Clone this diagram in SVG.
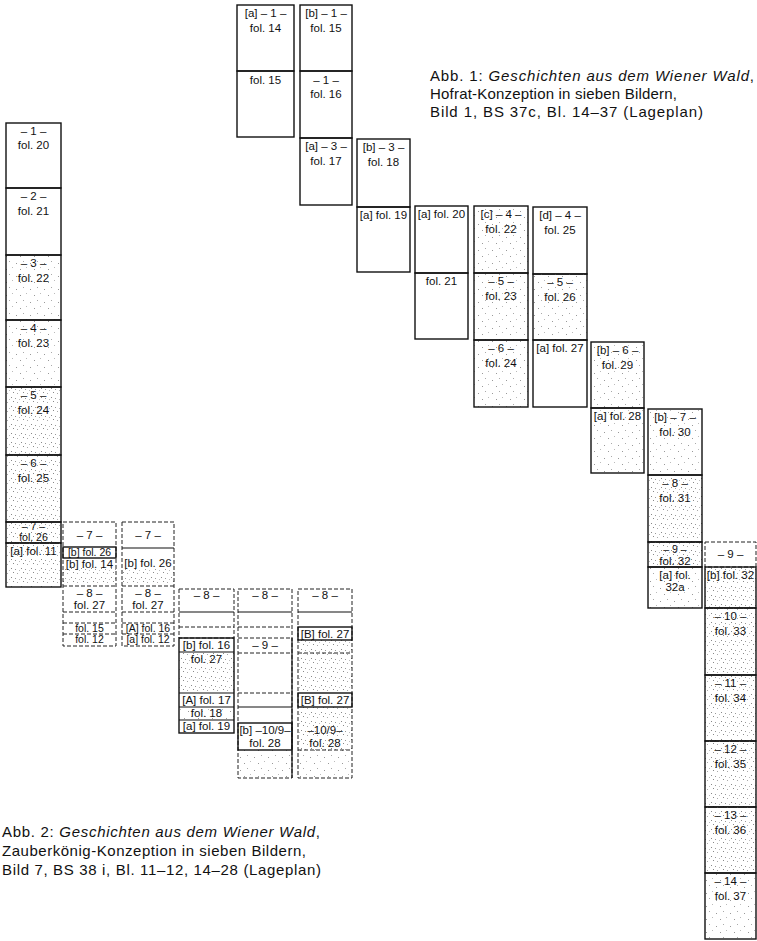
<svg xmlns="http://www.w3.org/2000/svg" width="757" height="941" viewBox="0 0 757 941">
<defs>
<pattern id="s1" width="14" height="13" patternUnits="userSpaceOnUse">
<rect x="2" y="3" width="1" height="1" fill="#999"/><rect x="9" y="1" width="1" height="1" fill="#aaa"/><rect x="6" y="9" width="1" height="1" fill="#999"/><rect x="12" y="7" width="1" height="1" fill="#bbb"/>
</pattern>
<pattern id="s2" width="10" height="9" patternUnits="userSpaceOnUse">
<rect x="1" y="1" width="1" height="1" fill="#888"/><rect x="5" y="2" width="1" height="1" fill="#999"/><rect x="3" y="5" width="1" height="1" fill="#888"/><rect x="7" y="6" width="1" height="1" fill="#aaa"/><rect x="9" y="3" width="1" height="1" fill="#bbb"/>
</pattern>
<style>
.b{fill:none;stroke:#111;stroke-width:1.4}
.d{fill:none;stroke:#222;stroke-width:1;stroke-dasharray:4 2}
.l{stroke:#111;stroke-width:1.2}
.dl{stroke:#222;stroke-width:1;stroke-dasharray:4 2}
.t{font-family:"Liberation Sans",Arial,sans-serif;font-size:11.5px;fill:#111;text-anchor:middle}
.s{font-size:10.5px}
.c{font-family:"Liberation Sans",Arial,sans-serif;font-size:15px;fill:#111}
.i{font-style:italic}
.f1{fill:url(#s1)}
.f2{fill:url(#s2)}
</style>
</defs>

<!-- Abb. 1 -->
<g id="a1-fol14"><rect class="b" x="237" y="5" width="57" height="66"/><text class="t" x="265.5" y="17">[a] – 1 –</text><text class="t" x="265.5" y="32">fol. 14</text></g>
<g id="a1-fol15a"><rect class="b" x="237" y="71" width="57" height="66"/><text class="t" x="265.5" y="84">fol. 15</text></g>
<g id="a1-fol15b"><rect class="b" x="300" y="5" width="52" height="66"/><text class="t" x="326" y="17">[b] – 1 –</text><text class="t" x="326" y="32">fol. 15</text></g>
<g id="a1-fol16"><rect class="b" x="300" y="71" width="52" height="67"/><text class="t" x="326" y="84">– 1 –</text><text class="t" x="326" y="98">fol. 16</text></g>
<g id="a1-fol17"><rect class="b" x="300" y="138" width="52" height="67"/><text class="t" x="326" y="150">[a] – 3 –</text><text class="t" x="326" y="165">fol. 17</text></g>
<g id="a1-fol18"><rect class="b" x="357" y="139" width="53" height="68"/><text class="t" x="383.5" y="151">[b] – 3 –</text><text class="t" x="383.5" y="166">fol. 18</text></g>
<g id="a1-fol19"><rect class="b" x="357" y="207" width="53" height="65"/><text class="t" x="383.5" y="219">[a] fol. 19</text></g>
<g id="a1-fol20"><rect class="b" x="415" y="206" width="53" height="67"/><text class="t" x="441.5" y="218">[a] fol. 20</text></g>
<g id="a1-fol21"><rect class="b" x="415" y="273" width="53" height="66"/><text class="t" x="441.5" y="285">fol. 21</text></g>
<g id="a1-fol22"><rect class="f1" x="474" y="206" width="54" height="67"/><rect class="b" x="474" y="206" width="54" height="67"/><text class="t" x="501" y="218">[c] – 4 –</text><text class="t" x="501" y="233">fol. 22</text></g>
<g id="a1-fol23"><rect class="f1" x="474" y="273" width="54" height="67"/><rect class="b" x="474" y="273" width="54" height="67"/><text class="t" x="501" y="285">– 5 –</text><text class="t" x="501" y="300">fol. 23</text></g>
<g id="a1-fol24"><rect class="f1" x="474" y="340" width="54" height="67"/><rect class="b" x="474" y="340" width="54" height="67"/><text class="t" x="501" y="352">– 6 –</text><text class="t" x="501" y="367">fol. 24</text></g>
<g id="a1-fol25"><rect class="b" x="533" y="207" width="54" height="67"/><text class="t" x="560" y="219">[d] – 4 –</text><text class="t" x="560" y="234">fol. 25</text></g>
<g id="a1-fol26"><rect class="f1" x="533" y="274" width="54" height="66"/><rect class="b" x="533" y="274" width="54" height="66"/><text class="t" x="560" y="286">– 5 –</text><text class="t" x="560" y="301">fol. 26</text></g>
<g id="a1-fol27"><rect class="b" x="533" y="340" width="54" height="67"/><text class="t" x="560" y="352">[a] fol. 27</text></g>
<g id="a1-fol29"><rect class="f1" x="591" y="342" width="53" height="66"/><rect class="b" x="591" y="342" width="53" height="66"/><text class="t" x="617.5" y="354">[b] – 6 –</text><text class="t" x="617.5" y="369">fol. 29</text></g>
<g id="a1-fol28"><rect class="f1" x="591" y="408" width="53" height="65"/><rect class="b" x="591" y="408" width="53" height="65"/><text class="t" x="617.5" y="420">[a] fol. 28</text></g>
<g id="a1-fol30"><rect class="f1" x="648" y="409" width="54" height="66"/><rect class="b" x="648" y="409" width="54" height="66"/><text class="t" x="675" y="421">[b] – 7 –</text><text class="t" x="675" y="436">fol. 30</text></g>
<g id="a1-fol31"><rect class="f2" x="648" y="475" width="54" height="67"/><rect class="b" x="648" y="475" width="54" height="67"/><text class="t" x="675" y="487">– 8 –</text><text class="t" x="675" y="502">fol. 31</text></g>
<g id="a1-fol32"><rect class="f2" x="648" y="542" width="54" height="25"/><rect class="b" x="648" y="542" width="54" height="25"/><text class="t s" x="675" y="553">– 9 –</text><text class="t" x="675" y="565">fol. 32</text></g>
<g id="a1-fol32a"><rect class="f1" x="648" y="567" width="54" height="41"/><rect class="b" x="648" y="567" width="54" height="41"/><text class="t" x="675" y="579">[a] fol.</text><text class="t" x="675" y="591">32a</text></g>
<g id="a1-9b"><rect class="d" x="705" y="542" width="51" height="25"/><text class="t" x="730.5" y="558">– 9 –</text></g>
<g id="a1-fol32b"><rect class="f2" x="705" y="567" width="51" height="41"/><rect class="b" x="705" y="567" width="51" height="41"/><text class="t" x="730.5" y="579">[b] fol. 32</text></g>
<g id="a1-fol33"><rect class="f2" x="705" y="608" width="51" height="67"/><rect class="b" x="705" y="608" width="51" height="67"/><text class="t" x="730.5" y="620">– 10 –</text><text class="t" x="730.5" y="635">fol. 33</text></g>
<g id="a1-fol34"><rect class="f2" x="705" y="675" width="51" height="66"/><rect class="b" x="705" y="675" width="51" height="66"/><text class="t" x="730.5" y="687">– 11 –</text><text class="t" x="730.5" y="702">fol. 34</text></g>
<g id="a1-fol35"><rect class="f2" x="705" y="741" width="51" height="66"/><rect class="b" x="705" y="741" width="51" height="66"/><text class="t" x="730.5" y="753">– 12 –</text><text class="t" x="730.5" y="768">fol. 35</text></g>
<g id="a1-fol36"><rect class="f2" x="705" y="807" width="51" height="66"/><rect class="b" x="705" y="807" width="51" height="66"/><text class="t" x="730.5" y="819">– 13 –</text><text class="t" x="730.5" y="834">fol. 36</text></g>
<g id="a1-fol37"><rect class="f1" x="705" y="873" width="51" height="66"/><rect class="b" x="705" y="873" width="51" height="66"/><text class="t" x="730.5" y="885">– 14 –</text><text class="t" x="730.5" y="900">fol. 37</text></g>

<g id="caption1">
<text class="c" x="430" y="81" textLength="324" lengthAdjust="spacing">Abb. 1: <tspan class="i">Geschichten aus dem Wiener Wald</tspan>,</text>
<text class="c" x="430" y="99" textLength="247" lengthAdjust="spacing">Hofrat-Konzeption in sieben Bildern,</text>
<text class="c" x="430" y="117" textLength="273" lengthAdjust="spacing">Bild 1, BS 37c, Bl. 14–37 (Lageplan)</text>
</g>

<!-- Abb. 2 -->
<g id="a2-fol20"><rect class="b" x="6" y="123" width="55" height="65"/><text class="t" x="33.5" y="135">– 1 –</text><text class="t" x="33.5" y="149">fol. 20</text></g>
<g id="a2-fol21"><rect class="b" x="6" y="188" width="55" height="67"/><text class="t" x="33.5" y="200">– 2 –</text><text class="t" x="33.5" y="215">fol. 21</text></g>
<g id="a2-fol22"><rect class="f1" x="6" y="255" width="55" height="65"/><rect class="b" x="6" y="255" width="55" height="65"/><text class="t" x="33.5" y="267">– 3 –</text><text class="t" x="33.5" y="282">fol. 22</text></g>
<g id="a2-fol23"><rect class="f1" x="6" y="320" width="55" height="67"/><rect class="b" x="6" y="320" width="55" height="67"/><text class="t" x="33.5" y="332">– 4 –</text><text class="t" x="33.5" y="347">fol. 23</text></g>
<g id="a2-fol24"><rect class="f2" x="6" y="387" width="55" height="68"/><rect class="b" x="6" y="387" width="55" height="68"/><text class="t" x="33.5" y="399">– 5 –</text><text class="t" x="33.5" y="414">fol. 24</text></g>
<g id="a2-fol25"><rect class="f2" x="6" y="455" width="55" height="67"/><rect class="b" x="6" y="455" width="55" height="67"/><text class="t" x="33.5" y="467">– 6 –</text><text class="t" x="33.5" y="482">fol. 25</text></g>
<g id="a2-fol26"><rect class="f2" x="6" y="522" width="55" height="21"/><rect class="b" x="6" y="522" width="55" height="21"/><text class="t s" x="33.5" y="530">– 7 –</text><text class="t s" x="33.5" y="541">fol. 26</text></g>
<g id="a2-fol11"><rect class="f2" x="6" y="543" width="55" height="44"/><rect class="b" x="6" y="543" width="55" height="44"/><text class="t" x="33.5" y="555">[a] fol. 11</text></g>

<g id="a2-colB">
<rect class="f2" x="63" y="568" width="53" height="18"/>
<rect class="d" x="63" y="522" width="53" height="124"/>
<rect class="b" x="63" y="547" width="53" height="11"/>
<line class="dl" x1="63" y1="586" x2="116" y2="586"/>
<line class="dl" x1="63" y1="612" x2="116" y2="612"/>
<line class="dl" x1="63" y1="623" x2="116" y2="623"/>
<line class="dl" x1="63" y1="634" x2="116" y2="634"/>
<text class="t" x="89.5" y="539">– 7 –</text>
<text class="t s" x="89.5" y="556">[b] fol. 26</text>
<text class="t" x="89.5" y="568">[b] fol. 14</text>
<text class="t" x="89.5" y="597">– 8 –</text>
<text class="t" x="89.5" y="609">fol. 27</text>
<text class="t s" x="89.5" y="632">fol. 15</text>
<text class="t s" x="89.5" y="643">fol. 12</text>
</g>
<g id="a2-colC">
<rect class="f2" x="122" y="569" width="52" height="17"/>
<rect class="d" x="122" y="522" width="52" height="124"/>
<line class="l" x1="122" y1="548" x2="174" y2="548"/>
<line class="dl" x1="122" y1="586" x2="174" y2="586"/>
<line class="dl" x1="122" y1="612" x2="174" y2="612"/>
<line class="dl" x1="122" y1="623" x2="174" y2="623"/>
<line class="dl" x1="122" y1="634" x2="174" y2="634"/>
<text class="t" x="148" y="539">– 7 –</text>
<text class="t" x="148" y="567">[b] fol. 26</text>
<text class="t" x="148" y="597">– 8 –</text>
<text class="t" x="148" y="609">fol. 27</text>
<text class="t s" x="148" y="632">[A] fol. 16</text>
<text class="t s" x="148" y="643">[a] fol. 12</text>
</g>
<g id="a2-colD">
<rect class="f2" x="179" y="652" width="55" height="41"/>
<rect class="f1" x="179" y="707" width="55" height="13"/>
<rect class="d" x="179" y="589" width="55" height="49"/>
<line class="l" x1="179" y1="612" x2="234" y2="612"/>
<line class="dl" x1="179" y1="627" x2="234" y2="627"/>
<rect class="b" x="179" y="638" width="55" height="95"/>
<line class="l" x1="179" y1="652" x2="234" y2="652"/>
<line class="l" x1="179" y1="693" x2="234" y2="693"/>
<line class="l" x1="179" y1="707" x2="234" y2="707"/>
<line class="l" x1="179" y1="720" x2="234" y2="720"/>
<text class="t" x="206.5" y="599">– 8 –</text>
<text class="t" x="206.5" y="649">[b] fol. 16</text>
<text class="t" x="206.5" y="663">fol. 27</text>
<text class="t" x="206.5" y="704">[A] fol. 17</text>
<text class="t" x="206.5" y="717">fol. 18</text>
<text class="t" x="206.5" y="730">[a] fol. 19</text>
</g>
<g id="a2-colE">
<rect class="f1" x="238" y="750" width="54" height="28"/>
<rect class="d" x="238" y="589" width="54" height="189"/>
<line class="l" x1="238" y1="612" x2="292" y2="612"/>
<line class="dl" x1="238" y1="627" x2="292" y2="627"/>
<line class="dl" x1="238" y1="638" x2="292" y2="638"/>
<line class="dl" x1="238" y1="653" x2="292" y2="653"/>
<line class="dl" x1="238" y1="693" x2="292" y2="693"/>
<line class="l" x1="238" y1="707" x2="292" y2="707"/>
<line class="l" x1="292" y1="638" x2="292" y2="778"/>
<rect class="b" x="238" y="723" width="54" height="27"/>
<text class="t" x="265" y="599">– 8 –</text>
<text class="t" x="265" y="649">– 9 –</text>
<text class="t" x="265" y="734">[b] –10/9–</text>
<text class="t" x="265" y="747">fol. 28</text>
</g>
<g id="a2-colF">
<rect class="f2" x="298" y="640" width="54" height="53"/>
<rect class="f2" x="298" y="707" width="54" height="43"/>
<rect class="f1" x="298" y="750" width="54" height="28"/>
<rect class="d" x="298" y="589" width="54" height="189"/>
<line class="l" x1="298" y1="612" x2="352" y2="612"/>
<rect class="b" x="298" y="627" width="54" height="13"/>
<line class="dl" x1="298" y1="653" x2="352" y2="653"/>
<rect class="b" x="298" y="693" width="54" height="14"/>
<line class="dl" x1="298" y1="750" x2="352" y2="750"/>
<text class="t" x="325" y="599">– 8 –</text>
<text class="t" x="325" y="638">[B] fol. 27</text>
<text class="t" x="325" y="704">[B] fol. 27</text>
<text class="t" x="325" y="734">–10/9–</text>
<text class="t" x="325" y="747">fol. 28</text>
</g>

<g id="caption2">
<text class="c" x="2" y="837" textLength="318" lengthAdjust="spacing">Abb. 2: <tspan class="i">Geschichten aus dem Wiener Wald</tspan>,</text>
<text class="c" x="2" y="856" textLength="304" lengthAdjust="spacing">Zauberkönig-Konzeption in sieben Bildern,</text>
<text class="c" x="2" y="875" textLength="319" lengthAdjust="spacing">Bild 7, BS 38 i, Bl. 11–12, 14–28 (Lageplan)</text>
</g>
</svg>
